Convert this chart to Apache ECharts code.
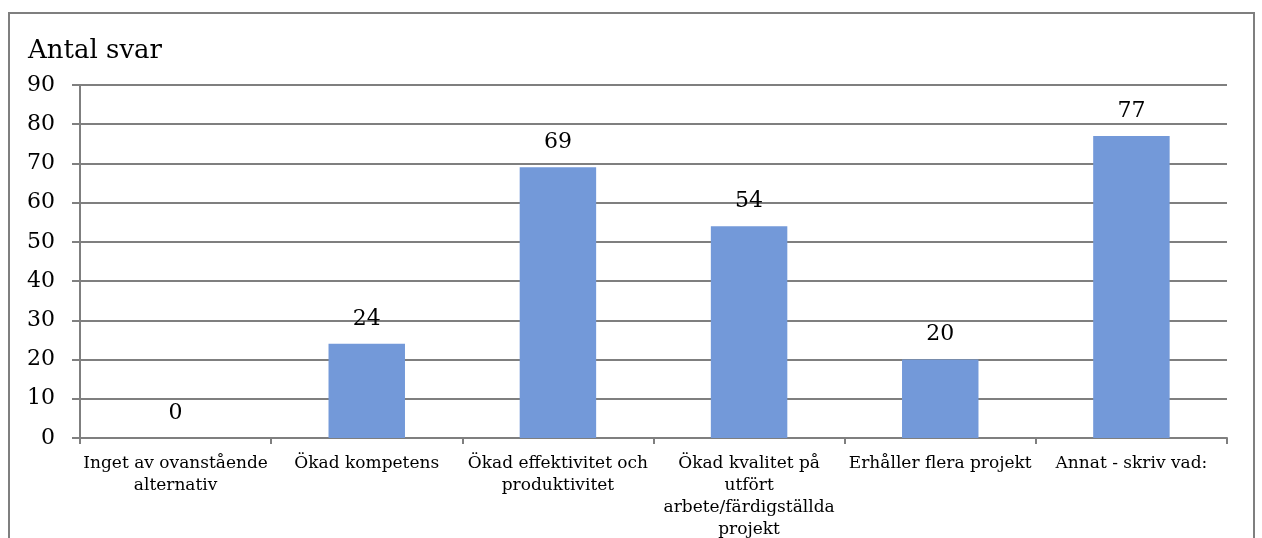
<!DOCTYPE html>
<html>
<head>
<meta charset="utf-8">
<script src="https://cdn.jsdelivr.net/npm/echarts@6/dist/echarts.min.js"></script>
<style>
  html, body { margin: 0; padding: 0; background: #fff; }
  #chart { width: 1262px; height: 538px; }
</style>
</head>
<body>
<div id="chart"></div>
<script>
// Survey answers per option
const categories = [
  'Inget av ovanstående\nalternativ',
  'Ökad kompetens',
  'Ökad effektivitet och\nproduktivitet',
  'Ökad kvalitet på\nutfört\narbete/färdigställda\nprojekt',
  'Erhåller flera projekt',
  'Annat - skriv vad:'
];
const answers = [0, 24, 69, 54, 20, 77];
const yTicks = { min: 0, max: 90, step: 10 };

const serif = '"DejaVu Serif", "Liberation Serif", serif';
const gray = '#7f7f7f';

const chart = echarts.init(document.getElementById('chart'), null, { renderer: 'canvas' });
chart.setOption({
  animation: false,
  backgroundColor: '#fff',
  graphic: [{
    type: 'rect',
    shape: { x: 9, y: 13, width: 1245, height: 600 },
    style: { fill: 'none', stroke: gray, lineWidth: 2 },
    silent: true
  }],
  title: {
    text: 'Antal svar',
    left: 23, top: 33,
    textStyle: { fontFamily: serif, fontSize: 26, fontWeight: 'normal', color: '#000' }
  },
  grid: {
    left: 80, right: 35, top: 85, bottom: 100,
    containLabel: false, outerBoundsMode: 'none'
  },
  xAxis: {
    type: 'category',
    data: categories,
    axisLine: { lineStyle: { color: gray, width: 2 } },
    axisTick: { show: true, alignWithLabel: false, length: 6, lineStyle: { color: gray, width: 2 } },
    axisLabel: {
      interval: 0, margin: 15, color: '#000',
      fontFamily: serif, fontSize: 17, lineHeight: 22
    }
  },
  yAxis: {
    type: 'value',
    min: yTicks.min, max: yTicks.max, interval: yTicks.step,
    axisLine: { show: true, lineStyle: { color: gray, width: 2 } },
    axisTick: { show: true, length: 8, lineStyle: { color: gray, width: 2 } },
    axisLabel: { margin: 25, color: '#000', fontFamily: serif, fontSize: 22 },
    splitLine: { lineStyle: { color: gray, width: 2 } }
  },
  series: [{
    type: 'bar',
    data: answers,
    barWidth: '40%',
    itemStyle: { color: '#7399d9' },
    label: {
      show: true, position: 'top', distance: 14, color: '#000',
      fontFamily: serif, fontSize: 22
    }
  }]
});
</script>
</body>
</html>
